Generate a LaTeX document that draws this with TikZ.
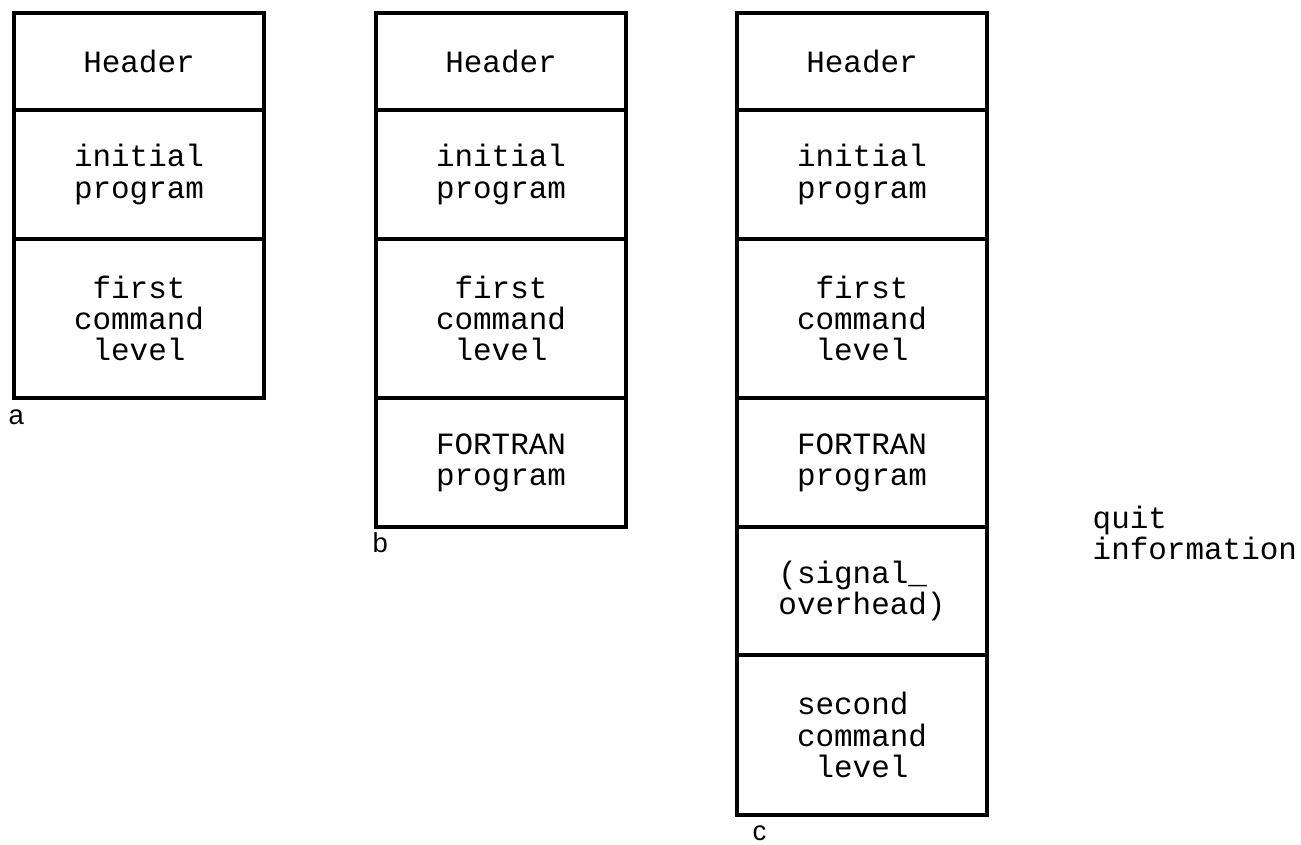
\documentclass[tikz,border=0pt]{standalone}
\usepackage{fontspec}
\newfontfamily\typewr{Liberation Mono}
\newfontfamily\tagfont{Liberation Sans}

\begin{document}
\begin{tikzpicture}[
    x=0.01cm, y=-0.01cm,
    % Styles definition
    cell/.style={draw, rectangle, line width=1.3pt, minimum width=2.5cm, inner sep=0pt, outer sep=0pt,
        align=left, font=\typewr\fontsize{8.8}{8.9}\selectfont},
    headcell/.style={cell, minimum height=0.97cm},
    progcell/.style={cell, minimum height=1.29cm},
    levelcell/.style={cell, minimum height=1.59cm},
    tag/.style={anchor=west, inner sep=0pt, font=\tagfont\fontsize{7.8}{8}\selectfont},
    note/.style={anchor=north west, inner sep=0pt, align=left, font=\typewr\fontsize{8.8}{8.9}\selectfont}
]
\useasboundingbox (0,0) rectangle (1301,844);

% a. Initial stack
\node[headcell] (aHead) at (139, 61.5) {Header};
\node[progcell] (aInit) at (139, 174.5) {initial\\program};
\node[levelcell] (aFirst) at (139, 318.5) {\phantom{x}first\\command\\\phantom{x}level};
\node[tag] (aTag) at (8, 417) {a};

% b. After FORTRAN program
\node[headcell] (bHead) at (501, 61.5) {Header};
\node[progcell] (bInit) at (501, 174.5) {initial\\program};
\node[levelcell] (bFirst) at (501, 318.5) {\phantom{x}first\\command\\\phantom{x}level};
\node[progcell] (bFortran) at (501, 462.5) {FORTRAN\\program};
\node[tag] (bTag) at (372, 543) {b};

% c. After quit
\node[headcell] (cHead) at (862, 61.5) {Header};
\node[progcell] (cInit) at (862, 174.5) {initial\\program};
\node[levelcell] (cFirst) at (862, 318.5) {\phantom{x}first\\command\\\phantom{x}level};
\node[progcell] (cFortran) at (862, 462.5) {FORTRAN\\program};
\node[progcell, minimum height=1.28cm] (cSignal) at (862, 591) {(signal\_\\overhead)};
\node[cell, minimum height=1.60cm] (cSecond) at (862, 735) {second\\command\\\phantom{x}level};
\node[tag] (cTag) at (752, 833) {c};

% quit information
\node[note] (quit) at (1092, 505) {quit\\information};

\end{tikzpicture}
\end{document}
